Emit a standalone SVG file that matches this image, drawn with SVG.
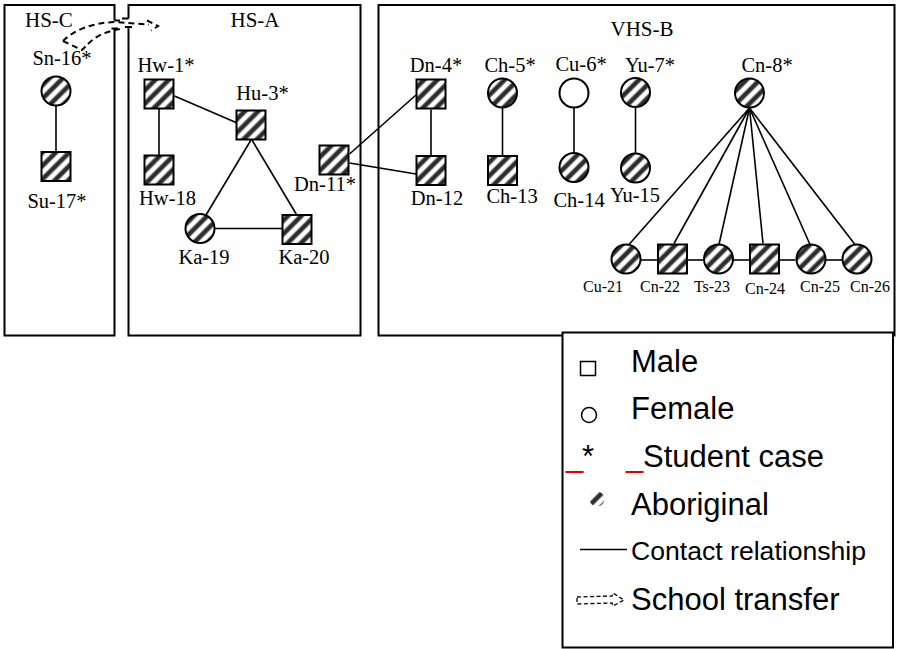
<svg xmlns="http://www.w3.org/2000/svg" width="897" height="649" viewBox="0 0 897 649">
<defs>
<pattern id="hatch" patternUnits="userSpaceOnUse" width="9.5" height="9.5" patternTransform="rotate(45)">
<rect x="0" y="0" width="9.5" height="9.5" fill="#ffffff"/>
<rect x="2" y="0" width="5.5" height="9.5" fill="#8a8a8a"/>
<rect x="3" y="0" width="3.5" height="9.5" fill="#2a2a2a"/>
</pattern>
</defs>
<style>
.box{fill:none;stroke:#000;stroke-width:2}
.nd{fill:url(#hatch);stroke:#000;stroke-width:2}
.wh{fill:#fff;stroke:#000;stroke-width:2}
.lbl{font-family:"Liberation Serif","Times New Roman",serif;font-size:20.5px;fill:#000;text-anchor:middle}
.sm{font-family:"Liberation Serif","Times New Roman",serif;font-size:16px;fill:#000;text-anchor:middle}
.ttl{font-family:"Liberation Serif","Times New Roman",serif;font-size:21px;fill:#000}
.lg{font-family:"Liberation Sans",Arial,sans-serif;font-size:31px;fill:#000}
.lg2{font-family:"Liberation Sans",Arial,sans-serif;font-size:26.6px;fill:#000}
.red{fill:#e00000}
#connectors line{stroke:#000;stroke-width:1.6}
.dash{fill:none;stroke:#000;stroke-width:2;stroke-dasharray:6,4}
</style>
<rect x="0" y="0" width="897" height="649" fill="#fff"/>

<!-- school boxes -->
<g id="box-HS-C">
<path class="box" d="M114.5,20.5 V5 H4.5 V335.5 H114.5 V28.5"/>
<path class="box" d="M114.5,20.5 H120 M111.5,28.5 H118"/>
<text class="ttl" x="25" y="27">HS-C</text>
</g>
<g id="box-HS-A">
<path class="box" d="M128.5,18.5 V5 H360.5 V335.5 H128.5 V27"/>
<path class="box" d="M128.5,18.5 H122 M125,27 H132"/>
<text class="ttl" x="255" y="27" text-anchor="middle">HS-A</text>
</g>
<g id="box-VHS-B">
<rect class="box" x="378.5" y="5" width="516" height="330.5"/>
<text class="ttl" x="642" y="36" text-anchor="middle" font-size="22">VHS-B</text>
</g>

<!-- connectors -->
<g id="connectors">
<line x1="56" y1="106" x2="56" y2="151.5"/>
<line x1="159" y1="109" x2="159" y2="155.5"/>
<line x1="174.5" y1="96" x2="236" y2="122.5"/>
<line x1="251" y1="140" x2="206" y2="215"/>
<line x1="252" y1="140" x2="296.5" y2="214.5"/>
<line x1="215" y1="228.5" x2="282" y2="228.5"/>
<line x1="349.5" y1="154" x2="416" y2="95"/>
<line x1="349.5" y1="163" x2="416" y2="174"/>
<line x1="431" y1="109.5" x2="431" y2="155.5"/>
<line x1="502.5" y1="108" x2="502.5" y2="155.5"/>
<line x1="574" y1="108" x2="574" y2="153"/>
<line x1="635.5" y1="107.5" x2="635.5" y2="153.5"/>
<line x1="749.5" y1="108" x2="629" y2="244.5"/>
<line x1="749.5" y1="108" x2="674" y2="243.5"/>
<line x1="749.5" y1="108" x2="719" y2="244.5"/>
<line x1="749.5" y1="108" x2="763" y2="243.5"/>
<line x1="749.5" y1="108" x2="810" y2="244.5"/>
<line x1="749.5" y1="108" x2="855" y2="244.5"/>
<line x1="641" y1="260" x2="657.5" y2="260"/>
<line x1="687.5" y1="260" x2="703.5" y2="260"/>
<line x1="733.5" y1="260" x2="749.5" y2="260"/>
<line x1="779.5" y1="260" x2="795.5" y2="260"/>
<line x1="826" y1="260" x2="842" y2="260"/>
<path class="dash" d="M63,41 C74,30 92,23 114,22 L149,24.5 M147,20.5 L158,26 L151,30.5 M88,44 C96,36 106,31 121,29 M63,41 L82,50 L88,44"/>
</g>

<!-- HS-C nodes -->
<g id="Sn-16"><circle class="nd" cx="56" cy="91" r="14.5"/><text class="lbl" x="62" y="65">Sn-16*</text></g>
<g id="Su-17"><rect class="nd" x="41.5" y="152" width="29" height="29"/><text class="lbl" x="57" y="208">Su-17*</text></g>

<!-- HS-A nodes -->
<g id="Hw-1"><rect class="nd" x="144.5" y="79.5" width="29" height="29"/><text class="lbl" x="166" y="72">Hw-1*</text></g>
<g id="Hu-3"><rect class="nd" x="236.5" y="110.5" width="29" height="29"/><text class="lbl" x="262.5" y="100">Hu-3*</text></g>
<g id="Hw-18"><rect class="nd" x="144.5" y="155.5" width="29" height="29"/><text class="lbl" x="167.5" y="205">Hw-18</text></g>
<g id="Dn-11"><rect class="nd" x="319.5" y="145.5" width="29" height="29"/><text class="lbl" x="325" y="191">Dn-11*</text></g>
<g id="Ka-19"><circle class="nd" cx="200" cy="228.5" r="14.5"/><text class="lbl" x="204" y="264">Ka-19</text></g>
<g id="Ka-20"><rect class="nd" x="282.5" y="215" width="29" height="29"/><text class="lbl" x="304" y="264">Ka-20</text></g>

<!-- VHS-B nodes -->
<g id="Dn-4"><rect class="nd" x="416.5" y="79.5" width="29" height="29"/><text class="lbl" x="436" y="72">Dn-4*</text></g>
<g id="Dn-12"><rect class="nd" x="416.5" y="156" width="29" height="29"/><text class="lbl" x="437" y="205">Dn-12</text></g>
<g id="Ch-5"><circle class="nd" cx="502.5" cy="93" r="14.5"/><text class="lbl" x="510" y="72">Ch-5*</text></g>
<g id="Ch-13"><rect class="nd" x="488" y="156" width="29" height="29"/><text class="lbl" x="512" y="203">Ch-13</text></g>
<g id="Cu-6"><circle class="wh" cx="574" cy="93" r="14.5"/><text class="lbl" x="581" y="71">Cu-6*</text></g>
<g id="Ch-14"><circle class="nd" cx="574" cy="167.5" r="14.5"/><text class="lbl" x="579" y="207">Ch-14</text></g>
<g id="Yu-7"><circle class="nd" cx="635.5" cy="92.5" r="14.5"/><text class="lbl" x="650" y="72">Yu-7*</text></g>
<g id="Yu-15"><circle class="nd" cx="635.5" cy="168" r="14.5"/><text class="lbl" x="635" y="202">Yu-15</text></g>
<g id="Cn-8"><circle class="nd" cx="749.5" cy="93" r="14.5"/><text class="lbl" x="767" y="72">Cn-8*</text></g>
<g id="Cu-21"><circle class="nd" cx="626" cy="259" r="14.5"/><text class="sm" x="603" y="292">Cu-21</text></g>
<g id="Cn-22"><rect class="nd" x="658" y="244.5" width="29" height="29"/><text class="sm" x="660" y="292">Cn-22</text></g>
<g id="Ts-23"><circle class="nd" cx="718.5" cy="259" r="14.5"/><text class="sm" x="712" y="292">Ts-23</text></g>
<g id="Cn-24"><rect class="nd" x="750" y="244.5" width="29" height="29"/><text class="sm" x="765" y="294">Cn-24</text></g>
<g id="Cn-25"><circle class="nd" cx="811" cy="259" r="14.5"/><text class="sm" x="820" y="292">Cn-25</text></g>
<g id="Cn-26"><circle class="nd" cx="857" cy="259" r="14.5"/><text class="sm" x="870" y="292">Cn-26</text></g>

<!-- legend -->
<g id="legend">
<rect x="562.5" y="332.5" width="330.5" height="315" fill="#fff" stroke="#000" stroke-width="2"/>
<rect x="580.5" y="361.5" width="15" height="14" fill="#fff" stroke="#000" stroke-width="1.5"/>
<text class="lg" x="631" y="372">Male</text>
<circle cx="589" cy="415" r="7.5" fill="#fff" stroke="#000" stroke-width="1.5"/>
<text class="lg" x="631" y="419">Female</text>
<text class="lg red" x="566" y="467">_</text>
<text class="lg" x="582" y="467">*</text>
<text class="lg red" x="626" y="467">_</text>
<text class="lg" x="643" y="467">Student case</text>
<circle cx="597" cy="499" r="7.5" fill="url(#hatch)"/>
<text class="lg" x="631" y="515">Aboriginal</text>
<line x1="580" y1="549.5" x2="627" y2="549.5" stroke="#000" stroke-width="1.5"/>
<text class="lg2" x="631" y="560">Contact relationship</text>
<path d="M577,597 L612,596 L613,593 L624,600 L613,606 L612,603 L577,604 Z" fill="none" stroke="#000" stroke-width="1.3" stroke-dasharray="4,2.5"/>
<text class="lg" x="631" y="610">School transfer</text>
</g>
</svg>
